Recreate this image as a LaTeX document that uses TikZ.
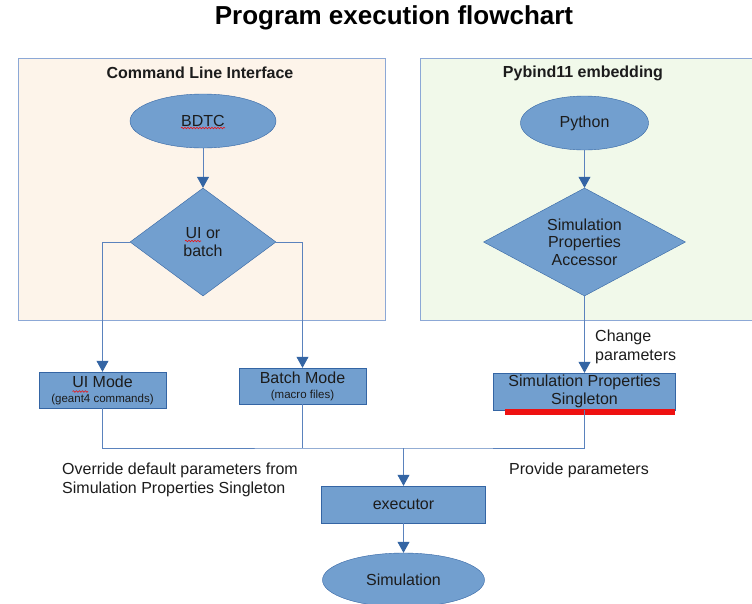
\documentclass[tikz,border=0pt]{standalone}
\usepackage{fontspec}
\setmainfont{Liberation Sans}
\usetikzlibrary{shapes.geometric,arrows.meta,decorations.pathmorphing}
\definecolor{shapefill}{HTML}{729FCF}
\definecolor{shapeline}{HTML}{3465A4}
\definecolor{connc}{HTML}{5A82BD}
\definecolor{panelA}{HTML}{FDF4EA}
\definecolor{panelB}{HTML}{F1F9EA}
\definecolor{panelline}{HTML}{8CA8D6}
\definecolor{txt}{HTML}{1C1C1C}
\definecolor{redline}{HTML}{EE1111}
\tikzset{
  panel/.style={draw=panelline, line width=0.9pt},
  paneltitle/.style={font=\fontsize{16}{19}\selectfont\bfseries, text=txt},
  terminal/.style={ellipse, fill=shapefill, draw=shapeline, line width=0.4pt, inner sep=0pt, text=txt, font=\fontsize{16}{19}\selectfont},
  decision/.style={diamond, fill=shapefill, draw=shapeline, line width=0.4pt, inner sep=0pt, text=txt, align=center, font=\fontsize{16}{17.5}\selectfont},
  procbox/.style={rectangle, fill=shapefill, draw=shapeline, line width=0.4pt, inner sep=0pt, text=txt, align=center, font=\fontsize{16}{18}\selectfont},
  conn/.style={draw=connc, line width=0.8pt},
  arr/.style={conn, -{Triangle[width=12pt,length=11pt,fill=shapeline,color=shapeline]}},
  note/.style={anchor=west, align=left, text=txt, inner sep=0pt, font=\fontsize{16}{19}\selectfont},
  squig/.style={draw=redline, line width=0.6pt, decorate, decoration={snake, segment length=3pt, amplitude=0.8pt}}
}
\begin{document}
\begin{tikzpicture}[x=1pt,y=-1pt]
\clip (0,0) rectangle (752,603);
\fill[white] (0,0) rectangle (752,603);
% title
\node[font=\fontsize{26}{30}\selectfont\bfseries, text=black] (title) at (394,18) {Program execution flowchart};
% panels
\draw[panel, fill=panelA] (18,58) rectangle (385,320);
\draw[panel, fill=panelB] (420,58) rectangle (790,320);
\node[paneltitle] (tA) at (200,73) {Command Line Interface};
\node[paneltitle] (tB) at (583,73) {Pybind11 embedding};
% left panel
\node[terminal, minimum width=146pt, minimum height=54pt] (bdtc) at (203,121) {BDTC};
\node[decision, aspect=1.35, minimum width=146pt, minimum height=108pt] (ui) at (203,242) {UI or\\batch};
% right panel
\node[terminal, minimum width=128pt, minimum height=54pt] (python) at (584.5,123) {Python};
\node[decision, aspect=1.87, minimum width=202pt, minimum height=108pt] (acc) at (584.5,242) {Simulation\\Properties\\Accessor};
% boxes
\node[procbox, minimum width=127pt, minimum height=36pt] (uim) at (102.5,390) {UI Mode\\[-3pt]{\fontsize{11.5}{13}\selectfont (geant4 commands)}};
\node[procbox, minimum width=127pt, minimum height=36pt] (batch) at (302.5,386) {Batch Mode\\[-3pt]{\fontsize{11.5}{13}\selectfont (macro files)}};
\node[procbox, minimum width=182pt, minimum height=37pt] (single) at (584.5,391.5) {Simulation Properties\\Singleton};
\node[procbox, minimum width=164pt, minimum height=37pt] (exec) at (403.5,504.5) {executor};
\node[terminal, minimum width=162pt, minimum height=54pt] (sim) at (403.5,580) {Simulation};
% red underline
\draw[redline, line width=6pt] (505,412) -- (675,412);
% spell-check squiggles
\draw[squig] (181,128) -- (225,128);
\draw[squig] (185,241) -- (201,241);
\draw[squig] (72.5,391.5) -- (88,391.5);
% connectors
\draw[arr] (bdtc) -- (ui);
\draw[arr] (ui.west) -| (uim.north);
\draw[arr] (ui.east) -| (batch.north);
\draw[arr] (python) -- (acc);
\draw[arr] (acc.south) -- (single.north);
\coordinate (jn) at (403.5,448);
\draw[conn] (uim.south) |- (jn) -| (single.south);
\draw[conn] (batch.south) -- (batch.south |- jn);
\draw[arr] (jn) -- (exec.north);
\draw[arr] (exec) -- (sim);
% notes
\node[note] (chg) at (595,346.5) {Change\\parameters};
\node[note] (ovr) at (62,480) {Override default parameters from\\Simulation Properties Singleton};
\node[note] (prov) at (509,470) {Provide parameters};
\end{tikzpicture}
\end{document}
